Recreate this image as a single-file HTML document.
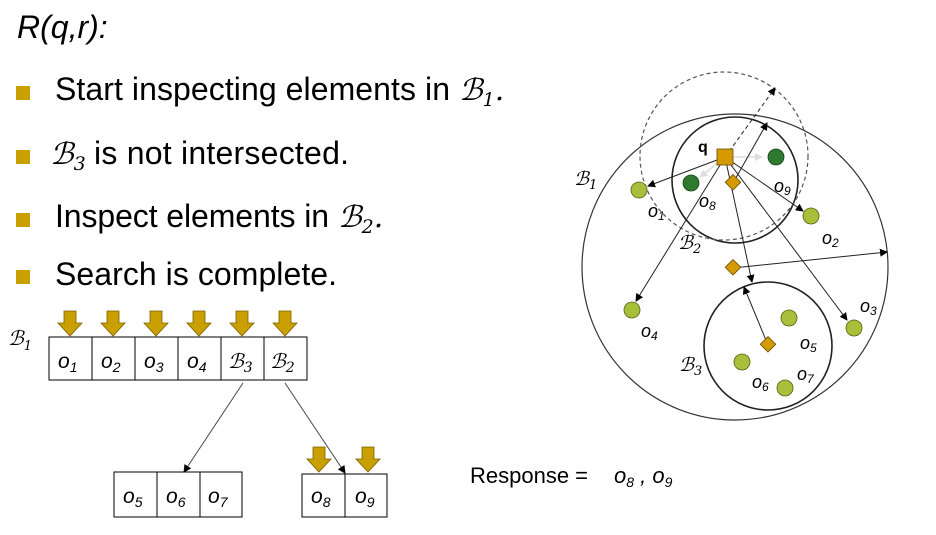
<!DOCTYPE html>
<html><head><meta charset="utf-8"><style>
html,body{margin:0;padding:0;background:#fff;width:936px;height:535px;overflow:hidden}
svg text{font-family:"Liberation Sans",sans-serif;fill:#000}
.s{font-family:"DejaVu Serif","Liberation Serif",serif;font-style:italic}
</style></head><body>
<svg width="936" height="535" viewBox="0 0 936 535" xmlns="http://www.w3.org/2000/svg">
<defs>
<marker id="a" markerWidth="8" markerHeight="8" refX="7" refY="4" orient="auto" markerUnits="userSpaceOnUse"><path d="M0,0 L8,4 L0,8 z" fill="#000"/></marker>
<marker id="g" markerWidth="8" markerHeight="8" refX="7" refY="4" orient="auto" markerUnits="userSpaceOnUse"><path d="M0,0 L8,4 L0,8 z" fill="#ddd"/></marker>
<g id="da"><path d="M-6,0 h12 v12 h6 l-12,13 l-12,-13 h6 z" fill="#C9A000" stroke="#7a6000" stroke-width="0.8"/></g>
</defs>
<text x="17" y="38" font-size="32" font-style="italic">R(q,r):</text>
<rect x="16" y="86" width="14" height="14" fill="#C9A000"/>
<text x="55" y="100" font-size="32" textLength="395">Start inspecting elements in</text>
<text x="459" y="100" font-size="30" class="s">ℬ<tspan font-size="19" dy="6">1</tspan><tspan dy="-6">.</tspan></text>
<rect x="16" y="150" width="14" height="14" fill="#C9A000"/>
<text x="50" y="164" font-size="30" class="s">ℬ<tspan font-size="19" dy="6">3</tspan></text>
<text x="94" y="164" font-size="32" textLength="255">is not intersected.</text>
<rect x="16" y="213" width="14" height="14" fill="#C9A000"/>
<text x="55" y="227" font-size="32" textLength="274">Inspect elements in</text>
<text x="338" y="227" font-size="30" class="s">ℬ<tspan font-size="19" dy="6">2</tspan><tspan dy="-6">.</tspan></text>
<rect x="16" y="270" width="14" height="14" fill="#C9A000"/>
<text x="55" y="285" font-size="32" textLength="282">Search is complete.</text>

<text x="8" y="345" font-size="20" class="s">ℬ<tspan font-size="13" dy="5">1</tspan></text>
<g fill="#fff" stroke="#000" stroke-width="1">
<rect x="49" y="337" width="258" height="43"/>
<path d="M92,337v43M135,337v43M178,337v43M221,337v43M264,337v43"/>
<rect x="114" y="472" width="128" height="45"/>
<path d="M157,472v45M200,472v45"/>
<rect x="302" y="474" width="85" height="43"/>
<path d="M345,474v43"/>
</g>
<g font-size="21" font-style="italic">
<text x="58" y="368">o<tspan font-size="14" dy="4">1</tspan></text>
<text x="101" y="368">o<tspan font-size="14" dy="4">2</tspan></text>
<text x="144" y="368">o<tspan font-size="14" dy="4">3</tspan></text>
<text x="187" y="368">o<tspan font-size="14" dy="4">4</tspan></text>
<text x="123" y="503">o<tspan font-size="14" dy="4">5</tspan></text>
<text x="166" y="503">o<tspan font-size="14" dy="4">6</tspan></text>
<text x="208" y="503">o<tspan font-size="14" dy="4">7</tspan></text>
<text x="311" y="503">o<tspan font-size="14" dy="4">8</tspan></text>
<text x="355" y="503">o<tspan font-size="14" dy="4">9</tspan></text>
</g>
<text x="228" y="368" font-size="20" class="s">ℬ<tspan font-size="14" dy="4">3</tspan></text>
<text x="270" y="368" font-size="20" class="s">ℬ<tspan font-size="14" dy="4">2</tspan></text>
<use href="#da" x="70" y="311"/><use href="#da" x="113" y="311"/><use href="#da" x="156" y="311"/>
<use href="#da" x="199" y="311"/><use href="#da" x="242" y="311"/><use href="#da" x="285" y="311"/>
<use href="#da" x="319" y="447"/><use href="#da" x="368" y="447"/>
<g stroke="#444" stroke-width="1">
<line x1="243" y1="383" x2="184" y2="472" marker-end="url(#a)"/>
<line x1="285" y1="383" x2="345" y2="473" marker-end="url(#a)"/>
</g>
<text x="470" y="483" font-size="22">Response = </text>
<text x="614" y="483" font-size="22" font-style="italic">o<tspan font-size="14" dy="4">8</tspan><tspan dy="-4"> , o</tspan><tspan font-size="14" dy="4">9</tspan></text>

<g fill="none" stroke="#333" stroke-width="1.2">
<circle cx="735" cy="267" r="153"/>
<circle cx="735" cy="180" r="63" stroke-width="1.6" stroke="#222"/>
<circle cx="768" cy="346" r="64" stroke-width="1.6" stroke="#222"/>
<circle cx="724" cy="156" r="84" stroke-dasharray="4,3" stroke="#555"/>
</g>
<g stroke="#ddd" stroke-width="1.5">
<line x1="725" y1="157" x2="762" y2="157" marker-end="url(#g)"/>
<line x1="725" y1="157" x2="700" y2="177" marker-end="url(#g)"/>
</g>
<g stroke="#222" stroke-width="1">
<line x1="725" y1="157" x2="775" y2="88" stroke-dasharray="4,3" marker-end="url(#a)"/>
<line x1="725" y1="157" x2="648" y2="186" marker-end="url(#a)"/>
<line x1="725" y1="157" x2="636" y2="301" marker-end="url(#a)"/>
<line x1="725" y1="157" x2="752" y2="282" marker-end="url(#a)"/>
<line x1="725" y1="157" x2="847" y2="320" marker-end="url(#a)"/>
<line x1="725" y1="157" x2="803" y2="211" marker-end="url(#a)"/>
<line x1="733" y1="183" x2="767" y2="123" marker-end="url(#a)"/>
<line x1="733" y1="268" x2="887" y2="252" marker-end="url(#a)"/>
<line x1="768" y1="345" x2="744" y2="287" marker-end="url(#a)"/>
</g>
<g fill="#A8BF3A" stroke="#556010" stroke-width="0.8">
<circle cx="639" cy="190" r="8"/><circle cx="811" cy="216" r="8"/><circle cx="854" cy="328" r="8"/>
<circle cx="632" cy="310" r="8"/><circle cx="789" cy="318" r="8"/><circle cx="742" cy="362" r="8"/><circle cx="785" cy="388" r="8"/>
</g>
<g fill="#2F7A2F" stroke="#1a401a" stroke-width="0.8">
<circle cx="776" cy="157" r="8"/><circle cx="691" cy="183" r="8"/>
</g>
<rect x="717" y="149" width="16" height="16" fill="#D49A00" stroke="#6a4a00" stroke-width="0.8"/>
<g fill="#D49A00" stroke="#6a4a00" stroke-width="0.8">
<rect x="727" y="177" width="11" height="11" transform="rotate(45 733 183)"/>
<rect x="727" y="262" width="11" height="11" transform="rotate(45 733 268)"/>
<rect x="762" y="339" width="11" height="11" transform="rotate(45 768 345)"/>
</g>
<g font-size="18" font-style="italic">
<text x="698" y="152" font-style="normal" font-weight="bold" font-size="16">q</text>
<text x="648" y="217">o<tspan font-size="12" dy="3">1</tspan></text>
<text x="699" y="207">o<tspan font-size="12" dy="3">8</tspan></text>
<text x="774" y="192">o<tspan font-size="12" dy="3">9</tspan></text>
<text x="822" y="244">o<tspan font-size="12" dy="3">2</tspan></text>
<text x="860" y="312">o<tspan font-size="12" dy="3">3</tspan></text>
<text x="641" y="337">o<tspan font-size="12" dy="3">4</tspan></text>
<text x="800" y="349">o<tspan font-size="12" dy="3">5</tspan></text>
<text x="752" y="388">o<tspan font-size="12" dy="3">6</tspan></text>
<text x="797" y="380">o<tspan font-size="12" dy="3">7</tspan></text>
</g>
<text x="574" y="185" font-size="19" class="s">ℬ<tspan font-size="13" dy="4">1</tspan></text>
<text x="678" y="249" font-size="19" class="s">ℬ<tspan font-size="13" dy="4">2</tspan></text>
<text x="679" y="371" font-size="19" class="s">ℬ<tspan font-size="13" dy="4">3</tspan></text>
</svg>
</body></html>
